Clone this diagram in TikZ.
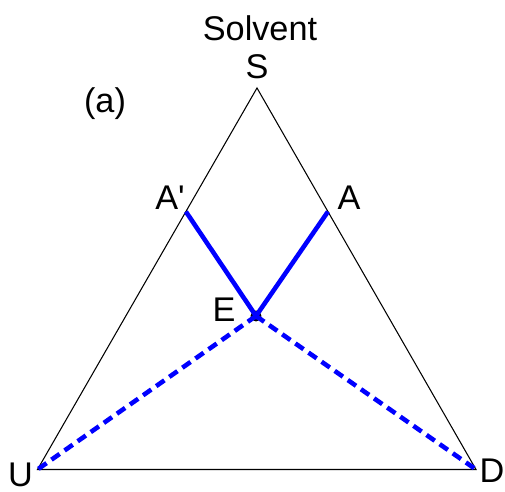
\documentclass[tikz,border=0pt]{standalone}
\usepackage{fontspec}
\setmainfont{Liberation Sans}
\usetikzlibrary{calc}
\tikzset{
  lbl/.style={anchor=base,inner sep=0pt,font=\fontsize{19.5}{23}\selectfont},
  tie/.style={draw=blue,line width=2.6pt},
  tiedash/.style={tie,dash pattern=on 0.2cm off 0.12cm}
}

\begin{document}
\begin{tikzpicture}[x=0.02cm,y=-0.02cm]
  \useasboundingbox (0,0) rectangle (505,492);
  \coordinate (S) at (257,88);
  \coordinate (U) at (37.5,469.5);
  \coordinate (D) at (476,469.5);
  \coordinate (Ap) at ($(S)!0.324!(U)$);
  \coordinate (A) at ($(S)!0.324!(D)$);
  \coordinate (E) at (256,316);
  \draw[line width=0.6pt] (S) -- (U) -- (D) -- cycle;
  \fill (E) circle (5.5);
  \draw[tie] (Ap) -- (E) -- (A);
  \draw[tiedash] (E) -- (U);
  \draw[tiedash] (E) -- (D);
  \node[lbl] (solv) at (260,41) {Solvent};
  \node[lbl] (Slbl) at (257,79) {S};
  \node[lbl] (case) at (105,113) {(a)};
  \node[lbl] (Aplbl) at (170,210) {A\textquotesingle};
  \node[lbl] (Albl) at (349,210) {A};
  \node[lbl] (Elbl) at (224,322) {E};
  \node[lbl] (Ulbl) at (20.5,487) {U};
  \node[lbl] (Dlbl) at (492,483) {D};
\end{tikzpicture}
\end{document}
